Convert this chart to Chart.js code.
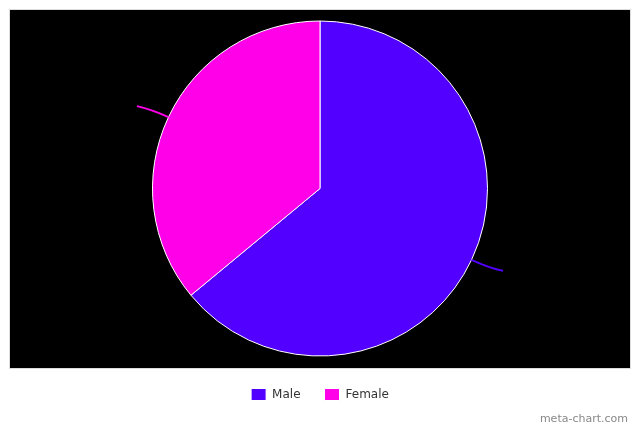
<!DOCTYPE html>
<html>
<head>
<meta charset="utf-8">
<script src="https://cdn.jsdelivr.net/npm/chart.js@4.4.0/dist/chart.umd.min.js"></script>
<style>
  html, body { margin: 0; padding: 0; background: #fff; }
  #wrap { width: 640px; height: 427px; }
</style>
</head>
<body>
<div id="wrap"><canvas id="myChart" width="640" height="427"></canvas></div>
<script>
// data
let labels = ["Male", "Female"];
let values = [64, 36];
let colors = ["#5200ff", "#ff00e8"];

// black panel behind the pie
const panel = {
  id: "panel",
  beforeDraw(chart) {
    let ctx = chart.ctx;
    ctx.save();
    ctx.fillStyle = "#000";
    ctx.fillRect(10, 10, chart.width - 20, 358);
    ctx.strokeStyle = "#ddd";
    ctx.lineWidth = 1;
    ctx.strokeRect(9.5, 9.5, chart.width - 19, 359);
    ctx.restore();
  }
};

// leader lines (labels are drawn black on black in the original)
const leaders = {
  id: "leaders",
  afterDatasetsDraw(chart) {
    let ctx = chart.ctx;
    let meta = chart.getDatasetMeta(0);
    meta.data.forEach((arc, i) => {
      let p = arc.getProps(["x", "y", "startAngle", "endAngle", "outerRadius"]);
      let mid = (p.startAngle + p.endAngle) / 2;
      let cos = Math.cos(mid), sin = Math.sin(mid);
      let r = p.outerRadius;
      let side = cos < 0 ? -1 : 1;
      ctx.save();
      ctx.strokeStyle = colors[i];
      ctx.lineWidth = 2;
      ctx.beginPath();
      ctx.moveTo(p.x + cos * r, p.y + sin * r);
      ctx.quadraticCurveTo(p.x + cos * (r + 18), p.y + sin * (r + 18),
                           p.x + cos * (r + 26) + side * 8, p.y + sin * (r + 26));
      ctx.stroke();
      ctx.restore();
    });
  }
};

// watermark
const credit = {
  id: "credit",
  afterDraw(chart) {
    let ctx = chart.ctx;
    ctx.save();
    ctx.font = "11px 'DejaVu Sans'";
    ctx.fillStyle = "#888";
    ctx.textAlign = "right";
    ctx.textBaseline = "alphabetic";
    ctx.fillText("meta-chart.com", chart.width - 12, 422);
    ctx.restore();
  }
};

let ctx = document.getElementById("myChart").getContext("2d");
let myChart = new Chart(ctx, {
  type: "pie",
  data: {
    labels,
    datasets: [{
      data: values,
      backgroundColor: colors,
      borderColor: "#fff",
      borderWidth: 1,
      radius: 167.5
    }]
  },
  options: {
    responsive: false,
    animation: false,
    layout: { padding: { top: 12.5, bottom: 16.5 } },
    plugins: {
      tooltip: { enabled: false },
      legend: {
        position: "bottom",
        labels: {
          boxWidth: 15,
          boxHeight: 12,
          padding: 24,
          color: "#333",
          font: { family: "'DejaVu Sans'", size: 12 }
        }
      }
    }
  },
  plugins: [panel, leaders, credit]
});
</script>
</body>
</html>
